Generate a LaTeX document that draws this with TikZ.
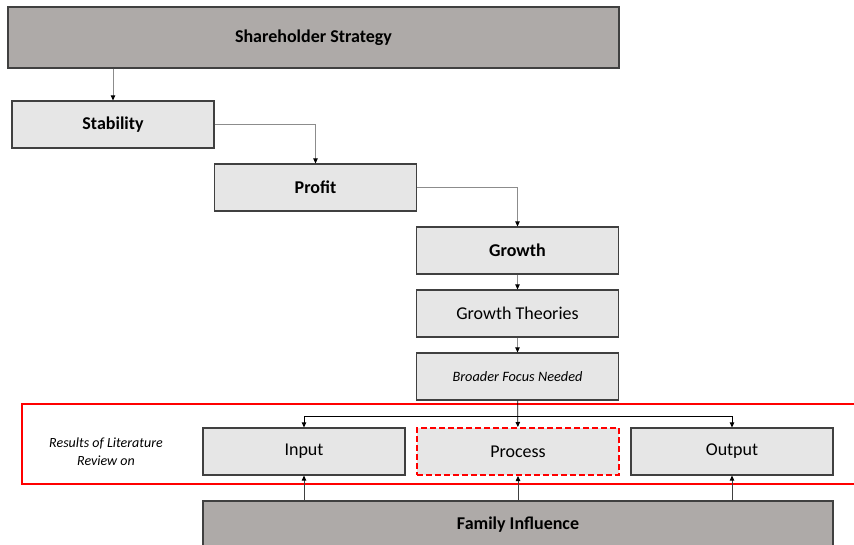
\documentclass[tikz,border=0pt]{standalone}
\usepackage{fontspec}
\setmainfont{Carlito}
\usetikzlibrary{positioning, arrows.meta}

\definecolor{darkbox}{HTML}{AEAAA8}
\definecolor{lightbox}{HTML}{E6E6E6}
\definecolor{edge}{HTML}{404040}
\definecolor{link}{HTML}{8C8C8C}

\begin{document}
\begin{tikzpicture}[x=1pt, y=-1pt,
  box/.style={draw=edge, line width=1.2pt, fill=lightbox, minimum width=202pt, minimum height=47pt, inner sep=0pt, font=\fontsize{18}{21}\selectfont},
  bigbox/.style={box, fill=darkbox},
  link/.style={draw=link, line width=0.8pt, -{Triangle[length=5pt,width=4.5pt,color=black]}}]
\useasboundingbox (0,0) rectangle (854,545);

% top chain
\node[bigbox, minimum width=611pt, minimum height=61pt] (ss) at (313.5, 37.5) {\textbf{Shareholder Strategy}};
\node[box] (stab) at (113, 124.5) {\textbf{Stability}};
\node[box] (prof) at (315.5, 187.5) {\textbf{Profit}};
\node[box] (grow) at (517.5, 250.5) {\textbf{Growth}};
\node[box] (theo) at (517.5, 313.5) {Growth Theories};
\node[box, font=\fontsize{14.3}{17}\selectfont\itshape] (broad) at (517.5, 376.5) {Broader Focus Needed};

% literature review
\draw[red, line width=2pt] (22,404) rectangle (870,484);
\node[align=center, font=\fontsize{14}{18}\selectfont\itshape] (res) at (106, 452) {Results of Literature\\Review on};
\node[box] (input) at (304, 451.5) {Input};
\node[box, draw=red, dash pattern=on 6pt off 3pt, line width=2pt] (proc) at (518, 451.5) {Process};
\node[box] (outp) at (732, 451.5) {Output};
\node[bigbox, minimum width=630pt, minimum height=48pt] (fam) at (518, 525) {\textbf{Family Influence}};

\draw[link] (ss.south -| stab) -- (stab);
\draw[link] (stab) -| (prof);
\draw[link] (prof) -| (grow);
\draw[link] (grow) -- (theo);
\draw[link] (theo) -- (broad);
\draw[link, draw=black] (broad) -- (proc);
\coordinate (split) at (517.5, 416);
\draw[link, draw=black] (split) -| (input);
\draw[link, draw=black] (split) -| (outp);
\foreach \n in {input, proc, outp}
  \draw[link, draw=edge] (fam.north -| \n) -- (\n);
\end{tikzpicture}
\end{document}
